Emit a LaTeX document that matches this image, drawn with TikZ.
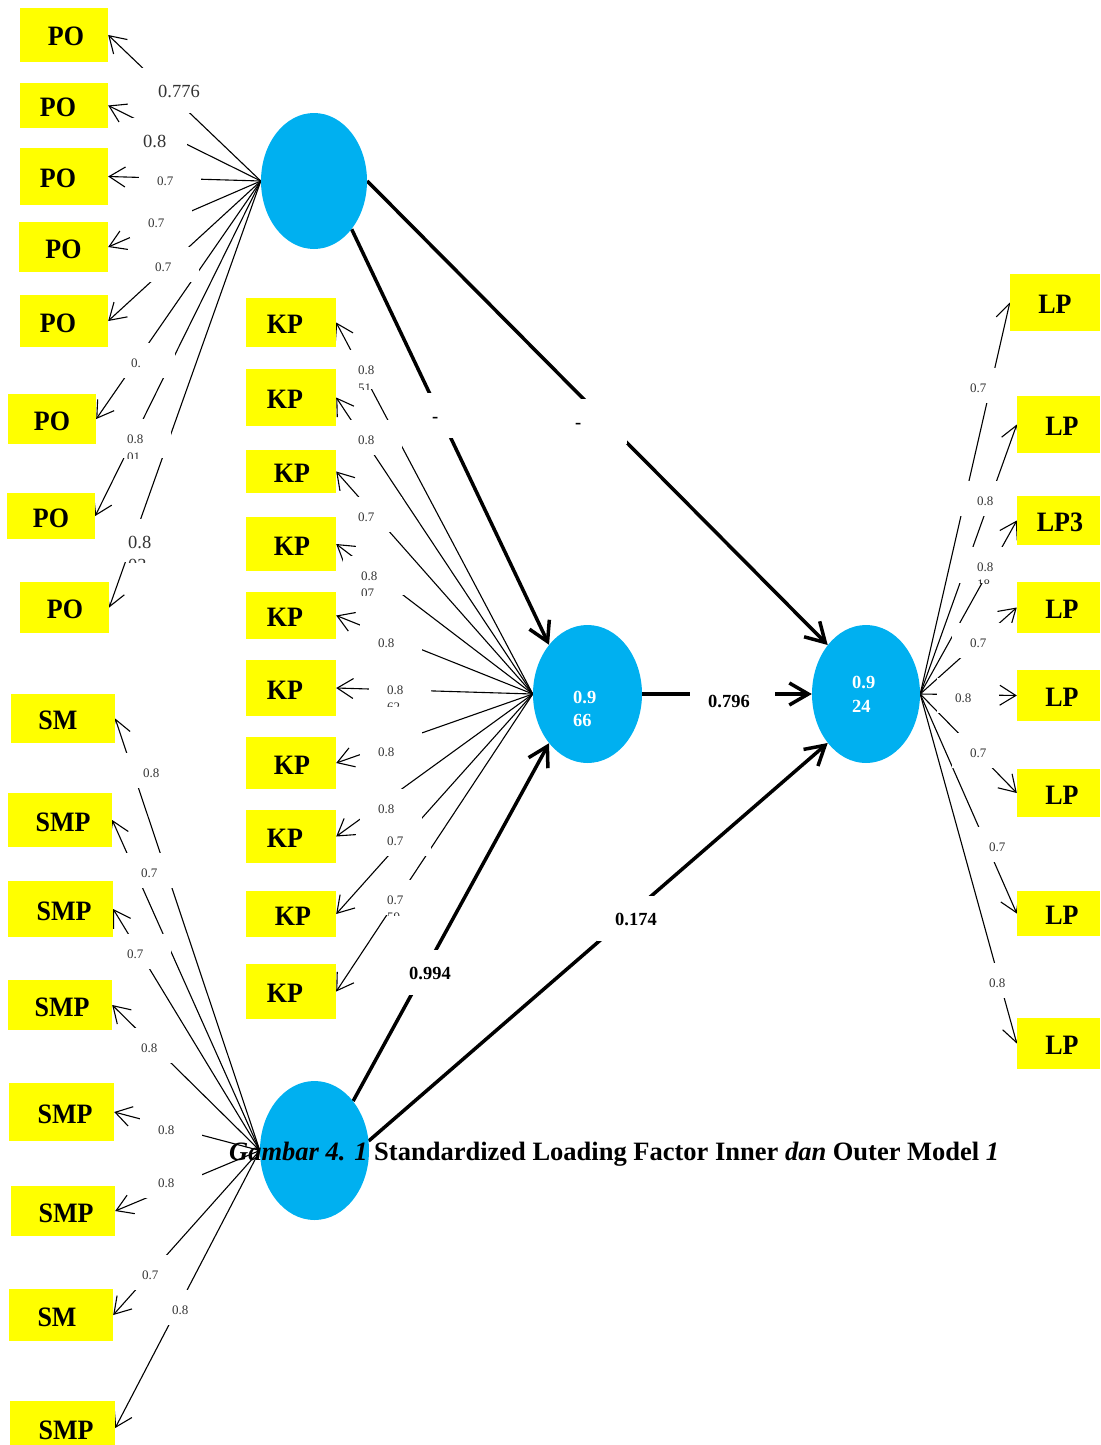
\documentclass[tikz,border=0pt]{standalone}
\usepackage{fontspec}
\setmainfont{Liberation Serif}
\usetikzlibrary{arrows.meta,shapes.geometric}
\definecolor{indyellow}{HTML}{FFFF00}
\definecolor{latblue}{HTML}{00B0F0}
\definecolor{loadgray}{HTML}{333333}
\pgfdeclarelayer{wires}
\pgfdeclarelayer{frames}
\pgfsetlayers{wires,frames,main}

% indicator box: name, centre x, centre y, width, height, text kern, text
\newcommand\ind[7]{\node[indbox, minimum width=#4pt, minimum height=#5pt] (#1) at (#2,#3)
  {\kern#6pt\relax\scalebox{1}[1.08]{#7}};}
% loading label in a white text frame: [style], name, text left, baseline, text
\newcommand\ld[5][]{\node[ldsmall,#1] (#2) at (#3-18,#4) {#5};}
% second label line cut off by its frame: name, style, left, top, cut, digit height, text
\newcommand\frag[7]{\begin{scope}\clip (#3-2,#4-3) rectangle (#3+40,#5);
  \node[#2, anchor=base west, inner sep=0pt] (#1) at (#3,#4+#6) {#7};\end{scope}}

\tikzset{
  indbox/.style={fill=indyellow, inner sep=0pt, text=black, text height=22pt, text depth=0pt,
    font=\fontsize{26}{30}\selectfont\bfseries},
  lat/.style={ellipse, fill=latblue, inner sep=0pt},
  load/.style={line width=1.1pt, -{Straight Barb[length=16pt,width=20pt]}},
  inner/.style={line width=3.5pt, -{Straight Barb[length=19pt,width=22pt]}},
  ldsmall/.style={fill=white, anchor=base west, inner xsep=18pt, inner ysep=0pt,
    text width=26pt, align=left, text height=24pt, text depth=11pt,
    text=loadgray, font=\fontsize{13}{15}\selectfont},
  ldbig/.style={text height=29pt, text depth=16pt, font=\fontsize{18.5}{21}\selectfont},
  ldpath/.style={text height=29pt, text depth=16pt, text=black, text width=49pt,
    font=\fontsize{18.5}{21}\selectfont\bfseries},
  fragS/.style={text=loadgray, font=\fontsize{13}{15}\selectfont},
  fragB/.style={text=loadgray, font=\fontsize{18.5}{21}\selectfont},
  lattext/.style={anchor=base west, inner sep=0pt, text=white,
    font=\fontsize{18.5}{21}\selectfont\bfseries},
}

\begin{document}
\begin{tikzpicture}[x=1pt,y=-1pt]
\useasboundingbox (0,0) rectangle (1100,1445);

% latent variables
\node[lat, minimum width=106pt, minimum height=136pt] (e1) at (314,181) {};
\node[lat, minimum width=109pt, minimum height=138pt] (e2) at (587.5,694) {};
\node[lat, minimum width=108pt, minimum height=138pt] (e3) at (866,694) {};
\node[lat, minimum width=109pt, minimum height=139pt] (e4) at (314.5,1150.5) {};
\node[lattext] (e2a) at (573,703) {0.9};
\node[lattext] (e2b) at (573,726) {66};
\node[lattext] (e3a) at (852,688) {0.9};
\node[lattext] (e3b) at (852,712) {24};

% PO indicators
\ind{po1}{64}{35}{88}{54}{4}{PO}
\ind{po2}{64}{105.5}{88}{45}{-12}{PO}
\ind{po3}{64}{176.5}{88}{57}{-12}{PO}
\ind{po4}{63.5}{247}{89}{50}{0}{PO}
\ind{po5}{64}{321}{88}{52}{-12}{PO}
\ind{po6}{52}{419}{88}{50}{0}{PO}
\ind{po7}{51}{516}{88}{46}{0}{PO}
\ind{po8}{64.5}{607.5}{89}{51}{1}{PO}

% KP indicators
\ind{kp1}{291}{322.5}{90}{49}{-12}{KP}
\ind{kp2}{291}{397.5}{90}{57}{-12}{KP}
\ind{kp3}{291}{471.5}{90}{43}{2}{KP}
\ind{kp4}{291}{544}{90}{54}{2}{KP}
\ind{kp5}{291}{615.5}{90}{47}{-12}{KP}
\ind{kp6}{291}{688}{90}{56}{-12}{KP}
\ind{kp7}{291}{763}{90}{52}{2}{KP}
\ind{kp8}{291}{836.5}{90}{53}{-12}{KP}
\ind{kp9}{291}{914}{90}{46}{4}{KP}
\ind{kp10}{291}{991.5}{90}{55}{-12}{KP}

% LP indicators
\ind{lp1}{1055}{302.5}{90}{57}{0}{LP}
\ind{lp2}{1058.5}{424.5}{83}{57}{7}{LP}
\ind{lp3}{1058.5}{520.5}{83}{49}{3}{LP3}
\ind{lp4}{1058.5}{607.5}{83}{51}{7}{LP}
\ind{lp5}{1058.5}{695.5}{83}{51}{7}{LP}
\ind{lp6}{1058.5}{793}{83}{48}{7}{LP}
\ind{lp7}{1058.5}{913.5}{83}{45}{7}{LP}
\ind{lp8}{1058.5}{1043.5}{83}{51}{7}{LP}

% SMP indicators
\ind{sm1}{63}{718.5}{104}{49}{-10}{SM}
\ind{sm2}{60}{820}{104}{54}{6}{SMP}
\ind{sm3}{60.5}{909}{105}{56}{7}{SMP}
\ind{sm4}{60}{1005}{104}{50}{4}{SMP}
\ind{sm5}{61.5}{1112}{105}{58}{7}{SMP}
\ind{sm6}{63}{1211}{104}{50}{6}{SMP}
\ind{sm7}{61}{1315}{104}{52}{-8}{SM}
\ind{sm8}{62.5}{1428}{105}{54}{7}{SMP}

\begin{pgfonlayer}{wires}
  \foreach \b in {po1,po2,po3,po4,po5,po6,po7,po8}
    \draw[load] (e1.west) -- (\b.east);
  \foreach \b in {kp1,kp2,kp3,kp4,kp5,kp6,kp7,kp8,kp9,kp10}
    \draw[load] (e2.west) -- (\b.east);
  \foreach \b in {lp1,lp2,lp3,lp4,lp5,lp6,lp7,lp8}
    \draw[load] (e3.east) -- (\b.west);
  \foreach \b in {sm1,sm2,sm3,sm4,sm5,sm6,sm7,sm8}
    \draw[load] (e4.west) -- (\b.east);
  % structural paths
  \draw[inner] (e1.-52) -- (e2.128);
  \draw[inner] (e1.east) -- (e3.128);
  \draw[inner] (e2.east) -- (e3.west);
  \draw[inner] (e4.52) -- (e2.232);
  \draw[inner] (e4.10) -- (e3.232);
\end{pgfonlayer}

\begin{pgfonlayer}{frames}
  % PO loadings
  \ld[ldbig, text width=44pt]{lpo1}{158}{97}{0.776}
  \ld[ldbig]{lpo2}{143}{147}{0.8}
  \ld{lpo3}{157}{185}{0.7}
  \ld{lpo4}{148}{227}{0.7}
  \ld{lpo5}{155}{271}{0.7}
  \ld{lpo6}{131}{367}{0.}
  \ld[text depth=15pt]{lpo7}{127}{443}{0.8}
  \ld[ldbig, text depth=14pt]{lpo8}{128}{548}{0.8}
  \frag{fpo7}{fragS}{127}{453}{458}{8.8}{01}
  \frag{fpo8}{fragB}{128}{559}{562}{12.5}{03}
  % KP loadings
  \ld[text depth=15pt]{lkp1}{358}{374}{0.8}
  \ld{lkp2}{358}{444}{0.8}
  \ld{lkp3}{358}{521}{0.7}
  \ld[text depth=15pt]{lkp4}{361}{580}{0.8}
  \ld{lkp5}{378}{647}{0.8}
  \ld[text depth=12pt]{lkp6}{387}{694}{0.8}
  \ld{lkp7}{378}{756}{0.8}
  \ld{lkp8}{378}{813}{0.8}
  \ld{lkp9}{387}{845}{0.7}
  \ld[text depth=11pt]{lkp10}{387}{904}{0.7}
  \frag{fkp1}{fragS}{358}{384}{389}{8.8}{51}
  \frag{fkp4}{fragS}{361}{589}{595}{8.8}{07}
  \frag{fkp6}{fragS}{387}{703}{706}{8.8}{62}
  \frag{fkp10}{fragS}{387}{913}{915}{8.8}{59}
  % LP loadings
  \ld{llp1}{970}{392}{0.7}
  \ld{llp2}{977}{505}{0.8}
  \ld[text depth=12pt]{llp3}{977}{571}{0.8}
  \ld{llp4}{970}{647}{0.7}
  \ld{llp5}{955}{702}{0.8}
  \ld{llp6}{970}{757}{0.7}
  \ld{llp7}{989}{851}{0.7}
  \ld{llp8}{989}{987}{0.8}
  \frag{flp3}{fragS}{977}{580}{583}{8.8}{18}
  % SMP loadings
  \ld{lsm1}{143}{777}{0.8}
  \ld{lsm2}{141}{877}{0.7}
  \ld{lsm3}{127}{958}{0.7}
  \ld{lsm4}{141}{1052}{0.8}
  \ld{lsm5}{158}{1134}{0.8}
  \ld{lsm6}{158}{1187}{0.8}
  \ld{lsm7}{142}{1279}{0.7}
  \ld{lsm8}{172}{1314}{0.8}
  % path coefficients
  \ld[ldpath, text width=34pt]{p12}{432}{422}{-}
  \ld[ldpath, text width=34pt]{p13}{575}{428}{-}
  \ld[ldpath]{p23}{708}{707}{0.796}
  \ld[ldpath]{p42}{409}{979}{0.994}
  \ld[ldpath]{p43}{615}{925}{0.174}
\end{pgfonlayer}

\node[anchor=base west, inner sep=0pt, text=black,
  font=\fontsize{26.5}{30}\selectfont\bfseries] (cap) at (229,1160)
  {\textit{Gambar 4. 1} Standardized Loading Factor Inner \textit{dan} Outer Model \textit{1}};
\end{tikzpicture}
\end{document}
